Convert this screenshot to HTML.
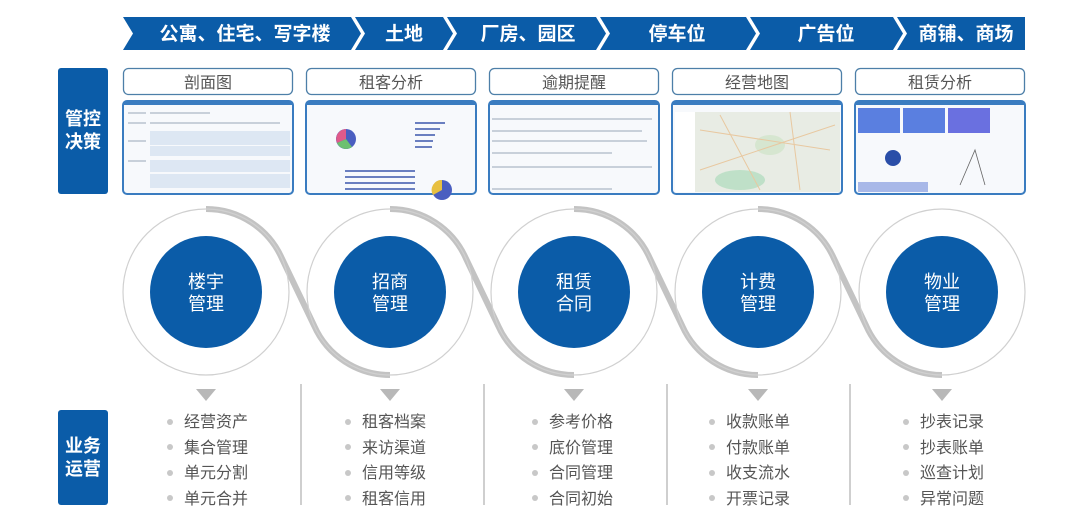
<!DOCTYPE html>
<html><head><meta charset="utf-8"><style>
body{margin:0;background:#fff;}
svg{display:block;font-family:"Liberation Sans","Noto Sans CJK SC",sans-serif;}
</style></head><body>
<svg width="1078" height="516" viewBox="0 0 1078 516" xmlns="http://www.w3.org/2000/svg">
<g fill="#0b5ca8">
<polygon points="123,17 351,17 361,33.5 351,50 123,50 133,33.5"/>
<polygon points="355,17 443,17 453,33.5 443,50 355,50 365,33.5"/>
<polygon points="447,17 596,17 606,33.5 596,50 447,50 457,33.5"/>
<polygon points="600,17 746,17 756,33.5 746,50 600,50 610,33.5"/>
<polygon points="750,17 893,17 903,33.5 893,50 750,50 760,33.5"/>
<polygon points="897,17 1025,17 1025,50 897,50 907,33.5"/>
</g>
<g fill="#fff" font-size="19" font-weight="bold" text-anchor="middle">
<text x="245" y="40">公寓、住宅、写字楼</text>
<text x="404" y="40">土地</text>
<text x="528" y="40">厂房、园区</text>
<text x="677" y="40">停车位</text>
<text x="826" y="40">广告位</text>
<text x="966" y="40">商铺、商场</text>
</g>
<rect x="58" y="68" width="50" height="126" rx="3" fill="#0b5ca8"/>
<text x="83" y="125" fill="#fff" font-size="18" font-weight="bold" text-anchor="middle">管控</text>
<text x="83" y="148" fill="#fff" font-size="18" font-weight="bold" text-anchor="middle">决策</text>
<rect x="58" y="410" width="50" height="95" rx="3" fill="#0b5ca8"/>
<text x="83" y="452" fill="#fff" font-size="18" font-weight="bold" text-anchor="middle">业务</text>
<text x="83" y="475" fill="#fff" font-size="18" font-weight="bold" text-anchor="middle">运营</text>
<g fill="#fff" stroke="#4d7fa8" stroke-width="1.3">
<rect x="123.5" y="68.5" width="169" height="26" rx="5"/>
<rect x="306.5" y="68.5" width="169" height="26" rx="5"/>
<rect x="489.5" y="68.5" width="169" height="26" rx="5"/>
<rect x="672.5" y="68.5" width="169" height="26" rx="5"/>
<rect x="855.5" y="68.5" width="169" height="26" rx="5"/>
</g>
<g fill="#555" font-size="16" text-anchor="middle">
<text x="208" y="88">剖面图</text>
<text x="391" y="88">租客分析</text>
<text x="574" y="88">逾期提醒</text>
<text x="757" y="88">经营地图</text>
<text x="940" y="88">租赁分析</text>
</g>
<g fill="#f7f9fc" stroke="#3a7cc0" stroke-width="2">
<rect x="123" y="101" width="170" height="93" rx="4"/>
<rect x="306" y="101" width="170" height="93" rx="4"/>
<rect x="489" y="101" width="170" height="93" rx="4"/>
<rect x="672" y="101" width="170" height="93" rx="4"/>
<rect x="855" y="101" width="170" height="93" rx="4"/>
</g>
<g fill="#3a7cc0"><rect x="124" y="102" width="168" height="3"/><rect x="307" y="102" width="168" height="3"/><rect x="490" y="102" width="168" height="3"/><rect x="673" y="102" width="168" height="3"/><rect x="856" y="102" width="168" height="3"/></g>
<g fill="#dde7f3">
<rect x="150" y="131" width="140" height="14"/><rect x="150" y="146" width="140" height="10"/>
<rect x="150" y="160" width="140" height="12"/><rect x="150" y="174" width="140" height="14"/>
</g>
<g fill="#c8d0da"><rect x="128" y="112" width="18" height="2"/><rect x="128" y="122" width="18" height="2"/><rect x="128" y="140" width="18" height="2"/><rect x="128" y="160" width="18" height="2"/><rect x="150" y="112" width="60" height="2"/><rect x="150" y="122" width="130" height="2"/></g>
<g fill="#6a7fc0"><rect x="345" y="170" width="70" height="2"/><rect x="345" y="176" width="70" height="2"/><rect x="345" y="182" width="70" height="2"/><rect x="345" y="188" width="70" height="2"/><rect x="415" y="122" width="30" height="2"/><rect x="415" y="128" width="25" height="2"/><rect x="415" y="134" width="20" height="2"/><rect x="415" y="140" width="18" height="2"/><rect x="415" y="146" width="17" height="2"/></g>
<circle cx="346" cy="139" r="10" fill="#4a5ec0"/><path d="M346 139 L346 129 A10 10 0 0 0 337 143 Z" fill="#e05a8a"/><path d="M346 139 L337 143 A10 10 0 0 0 352 147 Z" fill="#6cc070"/>
<circle cx="442" cy="190" r="10" fill="#4a5ec0"/><path d="M442 190 L442 180 A10 10 0 0 0 433 195 Z" fill="#e8c040"/>
<g fill="#c8d0da"><rect x="492" y="118" width="160" height="2"/><rect x="492" y="130" width="150" height="2"/><rect x="492" y="140" width="155" height="2"/><rect x="492" y="152" width="120" height="2"/><rect x="492" y="166" width="160" height="2"/><rect x="492" y="188" width="120" height="2"/></g>
<rect x="675" y="112" width="165" height="80" fill="#e8ece4"/>
<rect x="675" y="112" width="20" height="80" fill="#fff"/>
<ellipse cx="740" cy="180" rx="25" ry="10" fill="#bfe0c8"/><ellipse cx="770" cy="145" rx="15" ry="10" fill="#d6e6d0"/>
<g stroke="#e8c8a0" stroke-width="1" fill="none"><path d="M700 130 L830 150 M720 115 L760 190 M700 170 L835 125 M790 112 L800 190"/></g>
<g fill="#5a7fe0"><rect x="858" y="108" width="42" height="25"/><rect x="903" y="108" width="42" height="25"/><rect x="948" y="108" width="42" height="25" fill="#6a70e0"/></g>
<circle cx="893" cy="158" r="8" fill="#2a4ea8"/>
<rect x="858" y="182" width="70" height="10" fill="#a8b8e8"/>
<path d="M960 185 L975 150 L985 185" stroke="#666" fill="none" stroke-width="0.8"/>
<g fill="none" stroke="#c3c3c3" stroke-width="6">
<path d="M206 209 A83 83 0 0 1 281.8 258.2 L314.2 325.8 A83 83 0 0 0 390 375"/>
<path d="M390 209 A83 83 0 0 1 465.8 258.2 L498.2 325.8 A83 83 0 0 0 574 375"/>
<path d="M574 209 A83 83 0 0 1 649.8 258.2 L682.2 325.8 A83 83 0 0 0 758 375"/>
<path d="M758 209 A83 83 0 0 1 833.8 258.2 L866.2 325.8 A83 83 0 0 0 942 375"/>
</g>
<g fill="none" stroke="#d0d0d0" stroke-width="1.2">
<circle cx="206" cy="292" r="83"/><circle cx="390" cy="292" r="83"/><circle cx="574" cy="292" r="83"/><circle cx="758" cy="292" r="83"/><circle cx="942" cy="292" r="83"/>
</g>
<g fill="#0b5ca8">
<circle cx="206" cy="292" r="56"/><circle cx="390" cy="292" r="56"/><circle cx="574" cy="292" r="56"/><circle cx="758" cy="292" r="56"/><circle cx="942" cy="292" r="56"/>
</g>
<g fill="#fff" font-size="18" text-anchor="middle">
<text x="206" y="288">楼宇</text><text x="206" y="310">管理</text>
<text x="390" y="288">招商</text><text x="390" y="310">管理</text>
<text x="574" y="288">租赁</text><text x="574" y="310">合同</text>
<text x="758" y="288">计费</text><text x="758" y="310">管理</text>
<text x="942" y="288">物业</text><text x="942" y="310">管理</text>
</g>
<g stroke="#cfcfcf" stroke-width="2">
<line x1="301" y1="384" x2="301" y2="505"/><line x1="484" y1="384" x2="484" y2="505"/><line x1="667" y1="384" x2="667" y2="505"/><line x1="850" y1="384" x2="850" y2="505"/>
</g>
<g fill="#b8b8b8">
<polygon points="196,389 216,389 206,401"/><polygon points="380,389 400,389 390,401"/><polygon points="564,389 584,389 574,401"/><polygon points="748,389 768,389 758,401"/><polygon points="932,389 952,389 942,401"/>
</g>
<g fill="#c8c8c8">
<circle cx="170" cy="422" r="3"/><circle cx="170" cy="447" r="3"/><circle cx="170" cy="473" r="3"/><circle cx="170" cy="498" r="3"/>
<circle cx="348" cy="422" r="3"/><circle cx="348" cy="447" r="3"/><circle cx="348" cy="473" r="3"/><circle cx="348" cy="498" r="3"/>
<circle cx="535" cy="422" r="3"/><circle cx="535" cy="447" r="3"/><circle cx="535" cy="473" r="3"/><circle cx="535" cy="498" r="3"/>
<circle cx="712" cy="422" r="3"/><circle cx="712" cy="447" r="3"/><circle cx="712" cy="473" r="3"/><circle cx="712" cy="498" r="3"/>
<circle cx="906" cy="422" r="3"/><circle cx="906" cy="447" r="3"/><circle cx="906" cy="473" r="3"/><circle cx="906" cy="498" r="3"/>
</g>
<g fill="#555" font-size="16">
<text x="184" y="427">经营资产</text><text x="184" y="453">集合管理</text><text x="184" y="478">单元分割</text><text x="184" y="504">单元合并</text>
<text x="362" y="427">租客档案</text><text x="362" y="453">来访渠道</text><text x="362" y="478">信用等级</text><text x="362" y="504">租客信用</text>
<text x="549" y="427">参考价格</text><text x="549" y="453">底价管理</text><text x="549" y="478">合同管理</text><text x="549" y="504">合同初始</text>
<text x="726" y="427">收款账单</text><text x="726" y="453">付款账单</text><text x="726" y="478">收支流水</text><text x="726" y="504">开票记录</text>
<text x="920" y="427">抄表记录</text><text x="920" y="453">抄表账单</text><text x="920" y="478">巡查计划</text><text x="920" y="504">异常问题</text>
</g>
</svg>
</body></html>
